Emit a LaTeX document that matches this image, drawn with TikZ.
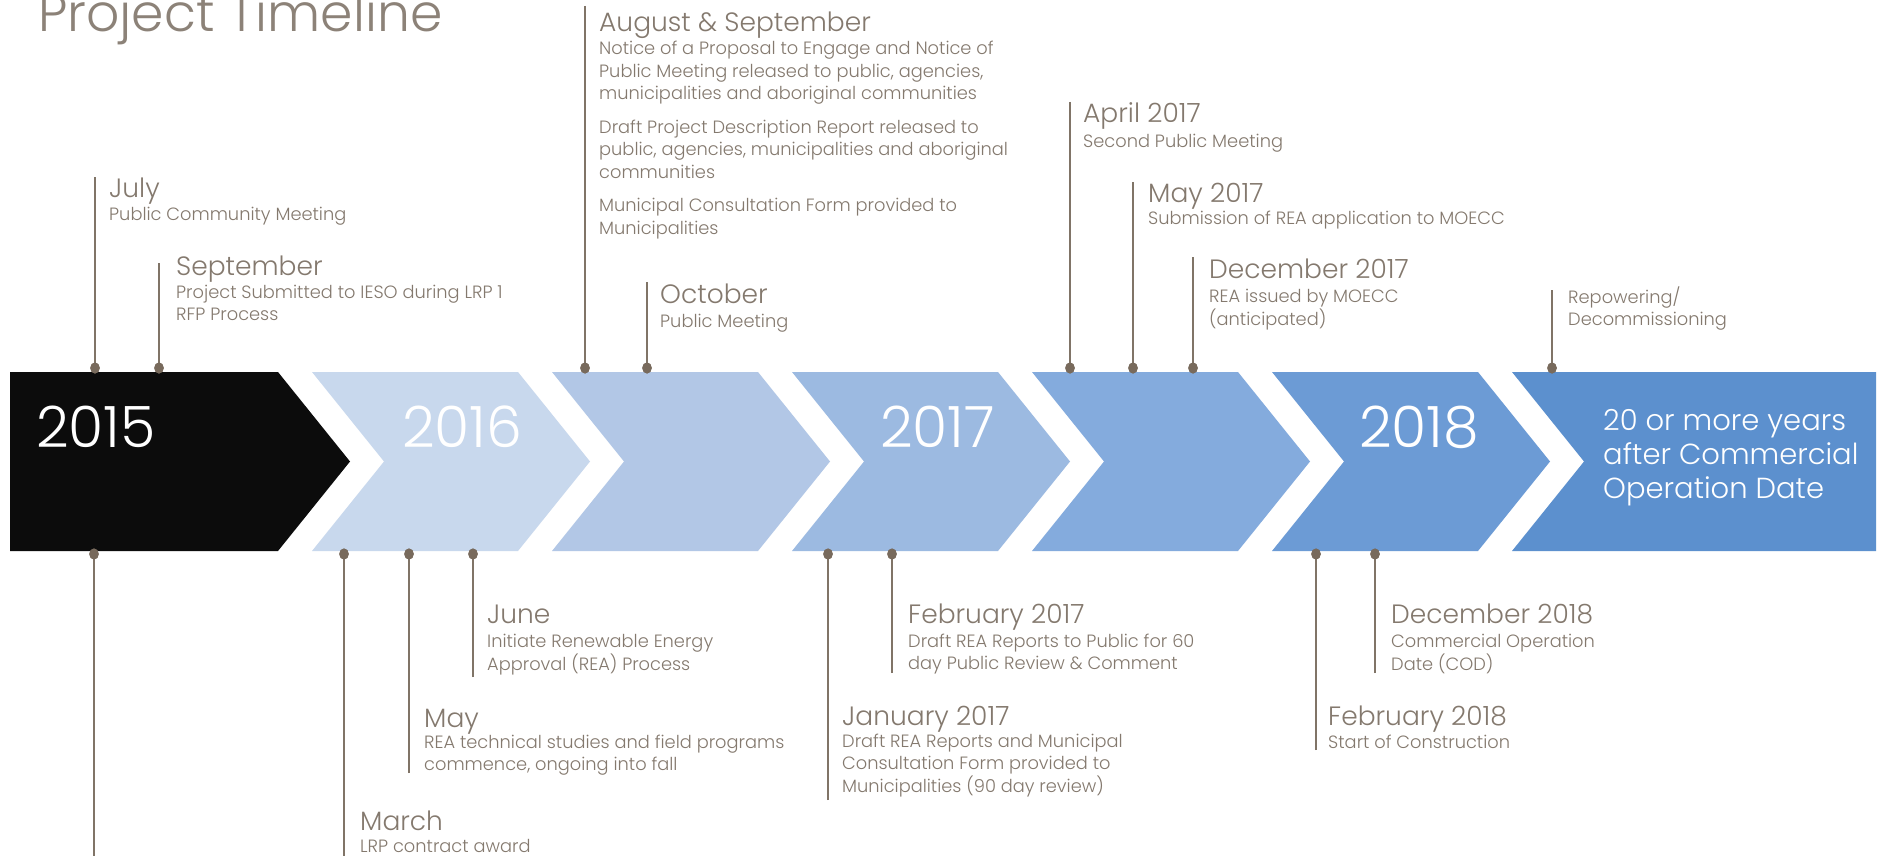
\documentclass[tikz,border=0pt]{standalone}
\usepackage{fontspec}
\setmainfont{Poppins}
\IfFontExistsTF{Poppins Light}{\newfontfamily\thinfont{Poppins Light}}{\newfontfamily\thinfont{Poppins}}
\usetikzlibrary{shapes.geometric}
\definecolor{taupe}{RGB}{132,121,110}
\definecolor{taupetitle}{RGB}{140,130,120}
\definecolor{taupeline}{RGB}{128,116,103}
\definecolor{taupedot}{RGB}{120,106,92}
\definecolor{cA}{RGB}{12,12,12}
\definecolor{cB}{RGB}{200,216,237}
\definecolor{cC}{RGB}{178,199,230}
\definecolor{cD}{RGB}{156,186,225}
\definecolor{cE}{RGB}{132,171,221}
\definecolor{cF}{RGB}{108,155,213}
\definecolor{cG}{RGB}{92,144,206}
\newcommand{\mylines}[1]{\begin{tabular}[t]{@{}l@{}}#1\end{tabular}}
\begin{document}
\begin{tikzpicture}[x=1pt,y=-1pt,
 head/.style={anchor=base west, inner sep=0, text=taupe, font=\thinfont\fontsize{26.5}{30}\selectfont},
 desc/.style={anchor=base west, inner sep=0, text=taupe, font=\thinfont\fontsize{17.8}{22.5}\selectfont},
 year/.style={anchor=base west, inner sep=0, text=white, font=\thinfont\fontsize{57}{60}\selectfont},
 tick/.style={draw=taupeline, line width=2pt},
 dot/.style={ellipse, fill=taupedot, inner sep=0, minimum width=9.5pt, minimum height=11pt}]
\clip (0,0) rectangle (1879,856);
\fill[white] (0,0) rectangle (1879,856);

% title
\node[anchor=base west, inner sep=0, text=taupetitle, font=\thinfont\fontsize{52}{60}\selectfont] (title) at (38,32) {Project Timeline};

% ribbon
\fill[cA] (10,372) -- (278,372) -- (350,461.5) -- (278,551) -- (10,551) -- cycle;
\fill[cB] (312,372) -- (518,372) -- (590,461.5) -- (518,551) -- (312,551) -- (384,461.5) -- cycle;
\fill[cC] (552,372) -- (758,372) -- (830,461.5) -- (758,551) -- (552,551) -- (624,461.5) -- cycle;
\fill[cD] (792,372) -- (998,372) -- (1070,461.5) -- (998,551) -- (792,551) -- (864,461.5) -- cycle;
\fill[cE] (1032,372) -- (1238,372) -- (1310,461.5) -- (1238,551) -- (1032,551) -- (1104,461.5) -- cycle;
\fill[cF] (1272,372) -- (1478,372) -- (1550,461.5) -- (1478,551) -- (1272,551) -- (1344,461.5) -- cycle;
\fill[cG] (1512,372) -- (1876,372) -- (1876,551) -- (1512,551) -- (1584,461.5) -- cycle;

\node[year] (y2015) at (36,447) {2015};
\node[year] (y2016) at (402,447) {2016};
\node[year] (y2017) at (880,447) {2017};
\node[year] (y2018) at (1359,447) {2018};
\node[anchor=base west, inner sep=0, text=white, font=\thinfont\fontsize{29}{34}\selectfont] (ylast) at (1603,430)
  {\mylines{20 or more years\\ after Commercial\\ Operation Date}};

% ---------- top events ----------
\coordinate (t1) at (95,177);   \node[dot] (d1) at (95,368) {};
\coordinate (t2) at (159,263);  \node[dot] (d2) at (159,368) {};
\coordinate (t3) at (585,6);    \node[dot] (d3) at (585,368) {};
\coordinate (t4) at (647,282);  \node[dot] (d4) at (647,368) {};
\coordinate (t5) at (1070,102); \node[dot] (d5) at (1070,368) {};
\coordinate (t6) at (1133,182); \node[dot] (d6) at (1133,368) {};
\coordinate (t7) at (1193,257); \node[dot] (d7) at (1193,368) {};
\coordinate (t8) at (1552,290); \node[dot] (d8) at (1552,368) {};

% ---------- bottom events ----------
\coordinate (b1) at (94,860);   \node[dot] (e1) at (94,554) {};
\coordinate (b2) at (344,860);  \node[dot] (e2) at (344,554) {};
\coordinate (b3) at (409,773);  \node[dot] (e3) at (409,554) {};
\coordinate (b4) at (473,677);  \node[dot] (e4) at (473,554) {};
\coordinate (b5) at (828,800);  \node[dot] (e5) at (828,554) {};
\coordinate (b6) at (892,673);  \node[dot] (e6) at (892,554) {};
\coordinate (b7) at (1316,750); \node[dot] (e7) at (1316,554) {};
\coordinate (b8) at (1375,673); \node[dot] (e8) at (1375,554) {};

\foreach \n in {1,...,8}{
  \draw[tick] (t\n) -- (d\n.center);
  \draw[tick] (b\n) -- (e\n.center);
}
\foreach \n in {1,...,8}{
  \node[dot] at (d\n) {};
  \node[dot] at (e\n) {};
}

% texts top
\node[head] (h1) at (109,197) {July};
\node[desc] (x1) at (109,220) {\mylines{Public Community Meeting}};
\node[head] (h2) at (176,275) {September};
\node[desc] (x2) at (176,298) {\mylines{Project Submitted to IESO during LRP 1\\ RFP Process}};
\node[head] (h3) at (599,32) {August \& September};
\node[desc] (x3) at (599,55) {\mylines{Notice of a Proposal to Engage and Notice of\\ Public Meeting released to public, agencies,\\ municipalities and aboriginal communities\\[11pt] Draft Project Description Report released to\\ public, agencies, municipalities and aboriginal\\ communities\\[11pt] Municipal Consultation Form provided to\\ Municipalities}};
\node[head] (h4) at (660,303) {October};
\node[desc] (x4) at (660,327) {\mylines{Public Meeting}};
\node[head] (h5) at (1083,123) {April 2017};
\node[desc] (x5) at (1083,147) {\mylines{Second Public Meeting}};
\node[head] (h6) at (1148,202) {May 2017};
\node[desc] (x6) at (1148,224) {\mylines{Submission of REA application to MOECC}};
\node[head] (h7) at (1209,278) {December 2017};
\node[desc] (x7) at (1209,302) {\mylines{REA issued by MOECC\\ (anticipated)}};
\node[desc] (x8) at (1568,303) {\mylines{Repowering/\\ Decommissioning}};

% texts bottom
\node[head] (h10) at (360,830) {March};
\node[desc] (x10) at (360,852) {\mylines{LRP contract award}};
\node[head] (h11) at (424,727) {May};
\node[desc] (x11) at (424,748) {\mylines{REA technical studies and field programs\\ commence, ongoing into fall}};
\node[head] (h12) at (487,623) {June};
\node[desc] (x12) at (487,647) {\mylines{Initiate Renewable Energy\\ Approval (REA) Process}};
\node[head] (h13) at (842,725) {January 2017};
\node[desc] (x13) at (842,747) {\mylines{Draft REA Reports and Municipal\\ Consultation Form provided to\\ Municipalities (90 day review)}};
\node[head] (h14) at (908,623) {February 2017};
\node[desc] (x14) at (908,647) {\mylines{Draft REA Reports to Public for 60\\ day Public Review \& Comment}};
\node[head] (h15) at (1328,725) {February 2018};
\node[desc] (x15) at (1328,748) {\mylines{Start of Construction}};
\node[head] (h16) at (1391,623) {December 2018};
\node[desc] (x16) at (1391,647) {\mylines{Commercial Operation\\ Date (COD)}};
\end{tikzpicture}
\end{document}
